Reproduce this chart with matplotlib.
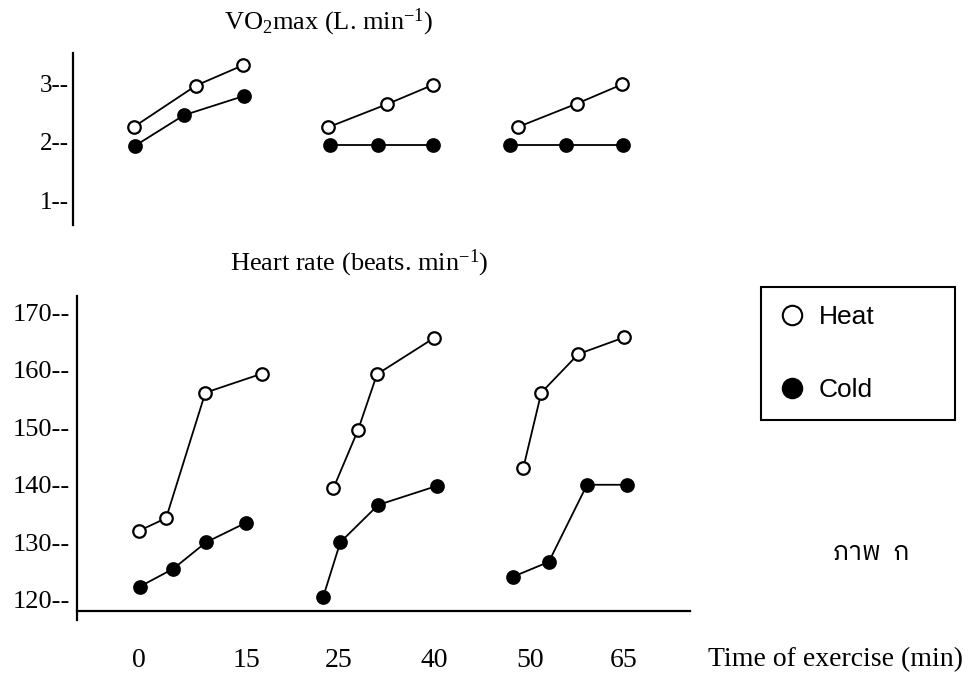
import numpy as np
import matplotlib.pyplot as plt
from matplotlib import font_manager, ft2font
from matplotlib.lines import Line2D

# VO2max (L/min): three bouts, heat and cold
vo2_heat_t = [[-0.7, 8.0, 14.6], [23.8, 32.6, 39.8], [48.8, 57.5, 64.7]]
vo2_heat = [[2.26, 2.97, 3.32], [2.25, 2.65, 2.98], [2.26, 2.66, 2.99]]
vo2_cold_t = [[-0.6, 6.3, 14.7], [24.0, 31.1, 39.8], [47.9, 55.7, 64.8]]
vo2_cold = [[1.93, 2.46, 2.79], [1.95, 1.95, 1.95], [1.95, 1.95, 1.95]]

# heart rate (beats/min)
hr_heat_t = [[0.0, 3.8, 9.3, 16.7], [24.4, 28.0, 31.0, 40.0], [49.3, 51.8, 57.7, 65.0]]
hr_heat = [[132.0, 134.2, 156.0, 159.3], [139.4, 149.5, 159.2, 165.5], [142.9, 156.0, 162.7, 165.6]]
hr_cold_t = [[0.1, 4.8, 9.4, 15.0], [23.3, 25.2, 31.2, 40.3], [48.2, 53.0, 59.1, 65.5]]
hr_cold = [[122.3, 125.4, 130.0, 133.4], [120.5, 130.0, 136.5, 139.8], [124.0, 126.6, 140.0, 140.0]]

time_ticks = [0, 15, 25, 40, 50, 65]
vo2_ticks = [1, 2, 3]
hr_ticks = [120, 130, 140, 150, 160, 170]

# the time axis is not drawn to a uniform scale: piecewise-linear mapping
axis_min = [-60, 0, 15, 25, 40, 50, 65, 120]
axis_pos = [-290, 139, 246, 339, 434, 530, 624, 969]


def fwd(x):
    return np.interp(x, axis_min, axis_pos)


def inv(p):
    return np.interp(p, axis_pos, axis_min)


# find something that can draw Thai, preferring a proportional face
thai_candidates = []
for f in font_manager.fontManager.ttflist:
    try:
        cmap = ft2font.FT2Font(f.fname).get_charmap()
    except Exception:
        continue
    if 0x0E20 in cmap and 0x0E01 in cmap:
        thai_candidates.append(f.name)
thai_candidates.sort(key=lambda n: ('Mono' in n, 'Sans' not in n, n))
thai_family = thai_candidates[0] if thai_candidates else 'DejaVu Sans'

plt.rcParams['font.family'] = ['Liberation Serif', 'DejaVu Serif']
plt.rcParams['mathtext.fontset'] = 'custom'
plt.rcParams['mathtext.rm'] = 'Liberation Serif'
plt.rcParams['mathtext.it'] = 'Liberation Serif:italic'

W, H = 970, 677
fig = plt.figure(figsize=(W / 100, H / 100), dpi=100)


def fx(x):
    return x / W


def fy(y):
    return 1 - y / H


ax_top = fig.add_axes([fx(73), fy(225), fx(690) - fx(73), fy(53) - fy(225)])
ax_hr = fig.add_axes([fx(77), fy(620), fx(690) - fx(77), fy(296) - fy(620)])

line_kw = dict(color='black', lw=1.3, marker='o', ms=9, mew=1.6)

for t, v in zip(vo2_heat_t, vo2_heat):
    ax_top.plot(t, v, mfc='white', mec='black', **line_kw)
for t, v in zip(vo2_cold_t, vo2_cold):
    ax_top.plot(t, v, mfc='black', mec='black', **line_kw)

for t, v in zip(hr_heat_t, hr_heat):
    ax_hr.plot(t, v, mfc='white', mec='black', **line_kw)
for t, v in zip(hr_cold_t, hr_cold):
    ax_hr.plot(t, v, mfc='black', mec='black', **line_kw)

for ax, left in ((ax_top, 73), (ax_hr, 77)):
    ax.set_xscale('function', functions=(fwd, inv))
    ax.set_xlim(inv(left), inv(690))
    ax.spines[['top', 'right']].set_visible(False)
    ax.spines['left'].set_linewidth(1.6)
    ax.patch.set_visible(False)
    ax.xaxis.set_minor_locator(plt.NullLocator())

ax_top.set_ylim(0.57, 3.53)
ax_top.spines['bottom'].set_visible(False)
ax_top.set_xticks([])
ax_top.set_yticks(vo2_ticks)
ax_top.set_yticklabels([f'{v}--' for v in vo2_ticks])
ax_top.tick_params(axis='y', length=0, pad=3, labelsize=18)

ax_hr.set_ylim(116.5, 172.8)
ax_hr.spines['bottom'].set_position(('data', 118.1))
ax_hr.spines['bottom'].set_linewidth(1.6)
ax_hr.set_yticks(hr_ticks)
ax_hr.set_yticklabels([f'{v}--' for v in hr_ticks])
ax_hr.tick_params(axis='y', length=0, pad=5, labelsize=19)
ax_hr.set_xticks(time_ticks)
ax_hr.set_xticklabels([str(v) for v in time_ticks])
ax_hr.tick_params(axis='x', length=0, pad=27, labelsize=20)

fig.text(fx(329), fy(22), r'VO$_2$max (L. min$^{-1}$)', ha='center', va='center', fontsize=19)
fig.text(fx(359), fy(263), r'Heart rate (beats. min$^{-1}$)', ha='center', va='center', fontsize=19)
fig.text(fx(836), fy(660), 'Time of exercise (min)', ha='center', va='center', fontsize=20)
fig.text(fx(871), fy(553), 'ภาพ  ก', ha='center', va='center', fontsize=19,
         family=[thai_family, 'DejaVu Sans'])

handles = [
    Line2D([], [], ls='none', marker='o', ms=14, mfc='white', mec='black', mew=1.5),
    Line2D([], [], ls='none', marker='o', ms=14, mfc='black', mec='black', mew=1.5),
]
leg = fig.legend(handles, ['Heat', 'Cold'], loc='upper left',
                 bbox_to_anchor=(fx(761), fy(422), fx(955) - fx(761), fy(287) - fy(422)),
                 mode='expand', borderaxespad=0, fancybox=False, framealpha=1,
                 handlelength=1.0, handletextpad=0.5, borderpad=0.68, labelspacing=1.85,
                 prop={'family': 'Liberation Sans', 'size': 19})
leg.get_frame().set_edgecolor('black')
leg.get_frame().set_linewidth(1.5)

fig.savefig('out.png', dpi=100, facecolor='white')
